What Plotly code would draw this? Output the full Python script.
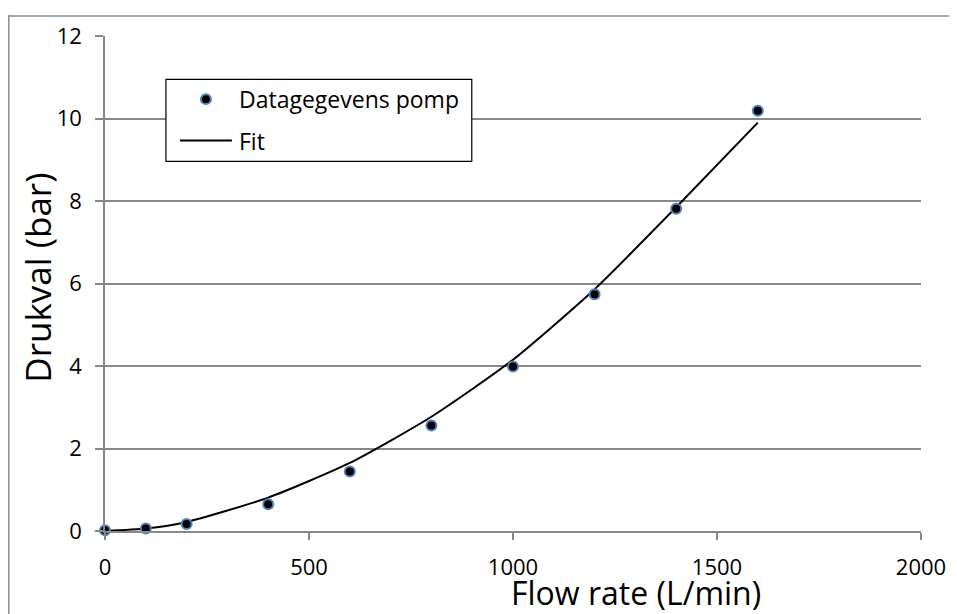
import plotly.graph_objects as go

# Data
flow = [0, 100, 200, 400, 600, 800, 1000, 1200, 1400, 1600]
pressure_data = [0.02, 0.06, 0.17, 0.65, 1.44, 2.56, 3.99, 5.74, 7.81, 10.19]
pressure_fit = [0.0, 0.06, 0.22, 0.81, 1.65, 2.77, 4.15, 5.86, 7.85, 9.90]
x_ticks = [0, 500, 1000, 1500, 2000]
y_ticks = [0, 2, 4, 6, 8, 10, 12]

# page body has an 8px margin; all pixel positions below are in figure coordinates
W, H = 957, 614
L, R, T, B = 97, 43.5, 21, 91.3
pw, ph = W - L - R, H - T - B

def px(x):
    return (x - L) / pw

def py(y):
    return (H - B - y) / ph

FONT = "Open Sans"
GRID = "#888888"

fig = go.Figure()
fig.add_trace(go.Scatter(
    x=flow, y=pressure_fit, mode="lines", name="Fit",
    line=dict(color="black", width=2, shape="spline", smoothing=0.6),
    showlegend=False, cliponaxis=False))
fig.add_trace(go.Scatter(
    x=flow, y=pressure_data, mode="markers", name="Datagegevens pomp",
    marker=dict(color="black", size=10, line=dict(color="#4F81BD", width=2)),
    showlegend=False, cliponaxis=False))

shapes = []
# outer chart frame (top and left visible)
shapes.append(dict(type="line", xref="paper", yref="paper", x0=px(0), x1=px(W + 5), y0=py(0.75), y1=py(0.75),
                   line=dict(color="#8c8c8c", width=1.5)))
shapes.append(dict(type="line", xref="paper", yref="paper", x0=px(0.75), x1=px(0.75), y0=py(0), y1=py(H + 5),
                   line=dict(color="#8c8c8c", width=1.5)))
# legend box
shapes.append(dict(type="rect", xref="paper", yref="paper", x0=px(158), x1=px(464), y0=py(65), y1=py(148),
                   line=dict(color="black", width=1.2), fillcolor="white", layer="above"))
shapes.append(dict(type="line", xref="paper", yref="paper", x0=px(172), x1=px(224), y0=py(127), y1=py(127),
                   line=dict(color="black", width=2), layer="above"))
shapes.append(dict(type="circle", xref="paper", yref="paper", x0=px(193), x1=px(203), y0=py(80), y1=py(90),
                   line=dict(color="#4F81BD", width=2), fillcolor="black", layer="above"))

annotations = [
    dict(text="Datagegevens pomp", xref="paper", yref="paper", x=px(229), y=py(85), xanchor="left",
         yanchor="middle", showarrow=False, font=dict(family=FONT, size=23, color="black")),
    dict(text="Fit", xref="paper", yref="paper", x=px(229), y=py(127), xanchor="left",
         yanchor="middle", showarrow=False, font=dict(family=FONT, size=23, color="black")),
    dict(text="Flow rate (L/min)", xref="paper", yref="paper", x=px(628.5), y=py(585), xanchor="center",
         yanchor="middle", showarrow=False, font=dict(family=FONT, size=32, color="black")),
    dict(text="Drukval (bar)", xref="paper", yref="paper", x=px(30), y=py(266), xanchor="center",
         yanchor="middle", showarrow=False, textangle=-90, font=dict(family=FONT, size=35, color="black")),
]

fig.update_layout(
    width=W, height=H,
    margin=dict(l=L, r=R, t=T, b=B),
    paper_bgcolor="white", plot_bgcolor="white",
    shapes=shapes, annotations=annotations,
    font=dict(family=FONT, size=22, color="black"),
    xaxis=dict(range=[0, 2000], tickvals=x_ticks, ticktext=[str(v) for v in x_ticks],
               showgrid=False, zeroline=False, showline=True, linecolor=GRID, linewidth=1.5,
               ticks="outside", ticklen=7, tickcolor=GRID, tickwidth=1.5,
               tickfont=dict(family=FONT, size=22, color="black"), ticklabelstandoff=9),
    yaxis=dict(range=[0, 12], tickvals=y_ticks, ticktext=[str(v) for v in y_ticks],
               showgrid=True, gridcolor=GRID, gridwidth=1.5, zeroline=False,
               showline=True, linecolor=GRID, linewidth=1.5,
               ticks="outside", ticklen=8, tickcolor=GRID, tickwidth=1.5,
               tickfont=dict(family=FONT, size=22, color="black"), ticklabelstandoff=9),
)

fig.write_html("out.html")
